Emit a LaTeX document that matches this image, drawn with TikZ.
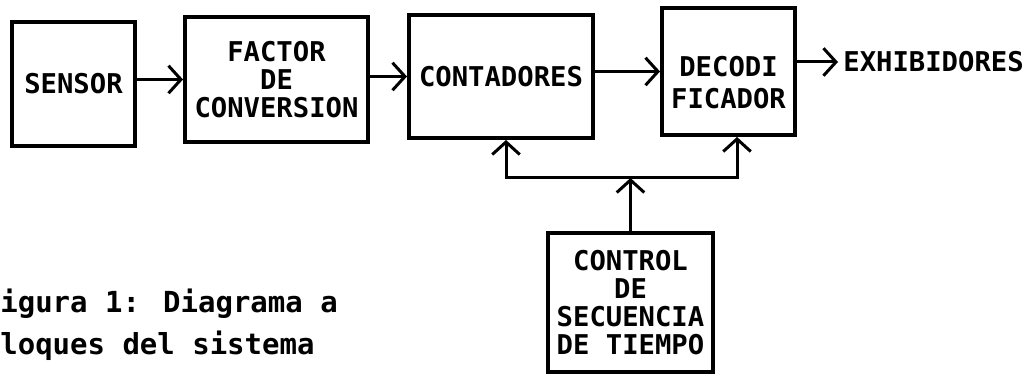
\documentclass[tikz,border=0pt]{standalone}
\usepackage{fontspec}
\newfontfamily\blockface{DejaVu Sans Mono}
\usetikzlibrary{arrows.meta}
\newcommand{\blockfont}{\blockface\bfseries\fontsize{15.5}{16}\selectfont}
\begin{document}
\begin{tikzpicture}[x=0.02cm,y=-0.02cm,
		block/.style={draw, line width=0.8mm, align=center, inner sep=0pt, font=\blockfont},
		flow/.style={line width=0.6mm, -{Straight Barb[length=2.5mm,width=5.5mm]}}]
			\useasboundingbox (0,0) rectangle (1025,374);
			\node[block, minimum width=2.46cm, minimum height=2.48cm] (sensor) at (73.5,84) {SENSOR};
			\node[block, minimum width=3.66cm, minimum height=2.5cm] (factor) at (276.5,79.5) {FACTOR\\DE\\CONVERSION};
			\node[block, minimum width=3.68cm, minimum height=2.46cm] (cont) at (501,76.5) {CONTADORES};
			\node[block, minimum width=2.66cm, minimum height=2.54cm] (decod) at (728.5,71.5) {\rule{0pt}{0.85cm}DECODI\\[2pt]FICADOR};
			\node[block, minimum width=3.3cm, minimum height=2.78cm] (control) at (630.5,302.5) {CONTROL\\DE\\SECUENCIA\\DE TIEMPO};
			\node[font=\blockfont, anchor=west, inner sep=0pt] (exhib) at (843,62) {EXHIBIDORES};
			\node[font=\blockface\bfseries\fontsize{16.5}{24}\selectfont, anchor=base west, align=left, inner sep=0pt] (caption) at (0,355) {igura 1: Diagrama a\\loques del sistema};
			\coordinate (bus) at (630,178);
			\draw [flow] (sensor.east |- factor.west) -- (factor.west);
			\draw [flow] (factor.east |- cont.west) -- (cont.west);
			\draw [flow] (cont.east |- decod.west) -- (decod.west);
			\draw [flow] (decod.east |- exhib.west) -- ([xshift=-1mm]exhib.west);
			\draw [flow] (control.north) -- (control.north |- bus);
			\draw [flow] (bus) -| ([xshift=1mm]cont.south);
			\draw [flow] (bus) -| ([xshift=1.7mm]decod.south);
		\end{tikzpicture}
\end{document}
